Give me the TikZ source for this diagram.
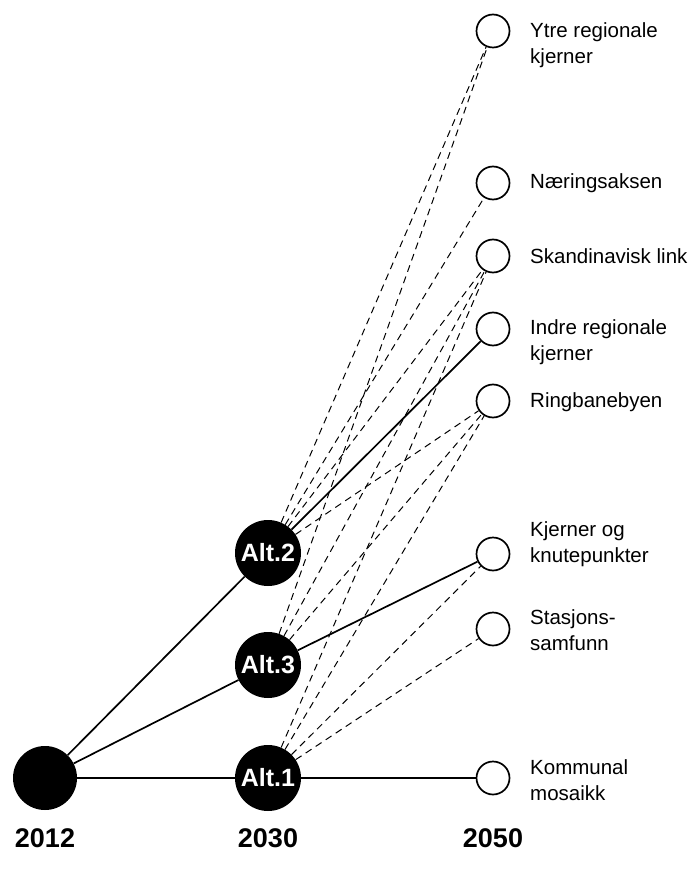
\documentclass[tikz,border=0pt]{standalone}
\usepackage{fontspec}
\setmainfont{Liberation Sans}
\begin{document}
\begin{tikzpicture}[x=1pt,y=-1pt,
  start/.style={circle,fill=black,minimum size=64pt,inner sep=0pt},
  altnode/.style={circle,fill=black,minimum size=66pt,inner sep=0pt,text=white,font=\bfseries\fontsize{25}{25}\selectfont},
  goal/.style={circle,draw=black,line width=1.7pt,fill=white,minimum size=33pt,inner sep=0pt},
  lbl/.style={anchor=west,align=left,inner sep=0pt,font=\fontsize{20.5}{26}\selectfont},
  yr/.style={font=\bfseries\fontsize{27}{27}\selectfont},
  mainlink/.style={line width=1.7pt},
  altlink/.style={line width=1pt,dash pattern=on 7pt off 5pt}]
\useasboundingbox (0,0) rectangle (696,877);

\node[start] (s) at (45,778) {};
\node[altnode] (a2) at (268,553) {Alt.2};
\node[altnode] (a3) at (268,665) {Alt.3};
\node[altnode] (a1) at (268,778) {Alt.1};

\node[goal] (ytre) at (493,31) {};
\node[goal] (naer) at (493,183) {};
\node[goal] (skan) at (493,256) {};
\node[goal] (indre) at (493,329) {};
\node[goal] (ring) at (493,401) {};
\node[goal] (kjern) at (493,554) {};
\node[goal] (stas) at (493,629) {};
\node[goal] (komm) at (493,778) {};

\node[lbl] (lytre) at (530,45) {Ytre regionale\\kjerner};
\node[lbl] (lnaer) at (530,183) {Næringsaksen};
\node[lbl] (lskan) at (530,256) {Skandinavisk link};
\node[lbl] (lindre) at (530,342) {Indre regionale\\kjerner};
\node[lbl] (lring) at (530,402) {Ringbanebyen};
\node[lbl] (lkjern) at (530,544) {Kjerner og\\knutepunkter};
\node[lbl] (lstas) at (530,630) {Stasjons-\\samfunn};
\node[lbl] (lkomm) at (530,780) {Kommunal\\mosaikk};

\node[yr] (y1) at (45,838) {2012};
\node[yr] (y2) at (268,838) {2030};
\node[yr] (y3) at (493,838) {2050};

\draw[mainlink] (s) -- (a2);
\draw[mainlink] (s) -- (a3);
\draw[mainlink] (s) -- (a1);
\draw[mainlink] (a1) -- (komm);
\draw[mainlink] (a3) -- (kjern);
\draw[mainlink] (a2) -- (indre);

\draw[altlink] (a2) -- (ytre);
\draw[altlink] (a2) -- (naer);
\draw[altlink] (a2) -- (skan);
\draw[altlink] (a2) -- (ring);
\draw[altlink] (a3) -- (ytre);
\draw[altlink] (a3) -- (skan);
\draw[altlink] (a3) -- (ring);
\draw[altlink] (a1) -- (skan);
\draw[altlink] (a1) -- (ring);
\draw[altlink] (a1) -- (kjern);
\draw[altlink] (a1) -- (stas);
\end{tikzpicture}
\end{document}
